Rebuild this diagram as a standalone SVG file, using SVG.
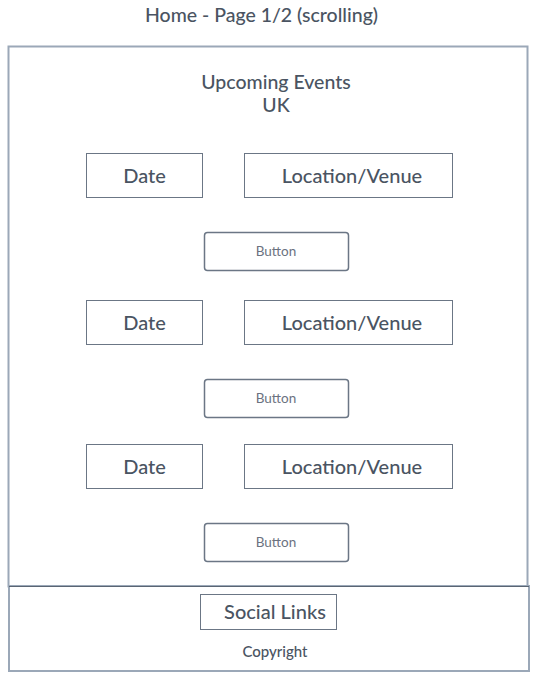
<svg xmlns="http://www.w3.org/2000/svg" width="537" height="680" viewBox="0 0 537 680">
<style>
text{font-family:Lato,"Open Sans","Liberation Sans",sans-serif;fill:#4a5462;text-anchor:middle;font-weight:500}
.box{fill:#fff;stroke:#6b7685;stroke-width:1}
.btn{fill:#fff;stroke:#6b7685;stroke-width:1.5}
.lbl{font-size:20px}
.bt{font-size:13.5px;fill:#6b7280;font-weight:normal}
</style>
<rect width="537" height="680" fill="#fff"/>
<text x="261.5" y="22" font-size="19.5">Home - Page 1/2 (scrolling)</text>
<g id="page">
<rect x="8.5" y="46.5" width="519" height="540" fill="#fff" stroke="#9ba8b8" stroke-width="2"/>
<text x="276" y="89" font-size="19.5">Upcoming Events</text>
<text x="276" y="112" font-size="19.5">UK</text>
</g>
<g id="date1"><rect class="box" x="86.5" y="153.5" width="116" height="44"/><text class="lbl" x="144.5" y="183">Date</text></g>
<g id="loc1"><rect class="box" x="244.5" y="153.5" width="208" height="44"/><text class="lbl" x="352" y="183">Location/Venue</text></g>
<g id="btn1"><rect class="btn" x="204.5" y="232.5" width="144" height="38" rx="3"/><text class="bt" x="276" y="256">Button</text></g>
<g id="date2"><rect class="box" x="86.5" y="300.5" width="116" height="44"/><text class="lbl" x="144.5" y="330">Date</text></g>
<g id="loc2"><rect class="box" x="244.5" y="300.5" width="208" height="44"/><text class="lbl" x="352" y="330">Location/Venue</text></g>
<g id="btn2"><rect class="btn" x="204.5" y="379.5" width="144" height="38" rx="3"/><text class="bt" x="276" y="403">Button</text></g>
<g id="date3"><rect class="box" x="86.5" y="444.5" width="116" height="44"/><text class="lbl" x="144.5" y="474">Date</text></g>
<g id="loc3"><rect class="box" x="244.5" y="444.5" width="208" height="44"/><text class="lbl" x="352" y="474">Location/Venue</text></g>
<g id="btn3"><rect class="btn" x="204.5" y="523.5" width="144" height="38" rx="3"/><text class="bt" x="276" y="547">Button</text></g>
<g id="footer">
<rect x="9" y="586" width="520" height="85" fill="#fff" stroke="#9ba8b8" stroke-width="2"/>
<line x1="9" y1="586.5" x2="529" y2="586.5" stroke="#5a6573" stroke-width="1"/>
</g>
<g id="social"><rect class="box" x="200.5" y="594.5" width="136" height="35" stroke="#8a94a2"/><text x="275" y="619" font-size="20">Social Links</text></g>
<g id="copyright"><text x="275" y="657" font-size="15">Copyright</text></g>
<g id="connectors"/>
</svg>
